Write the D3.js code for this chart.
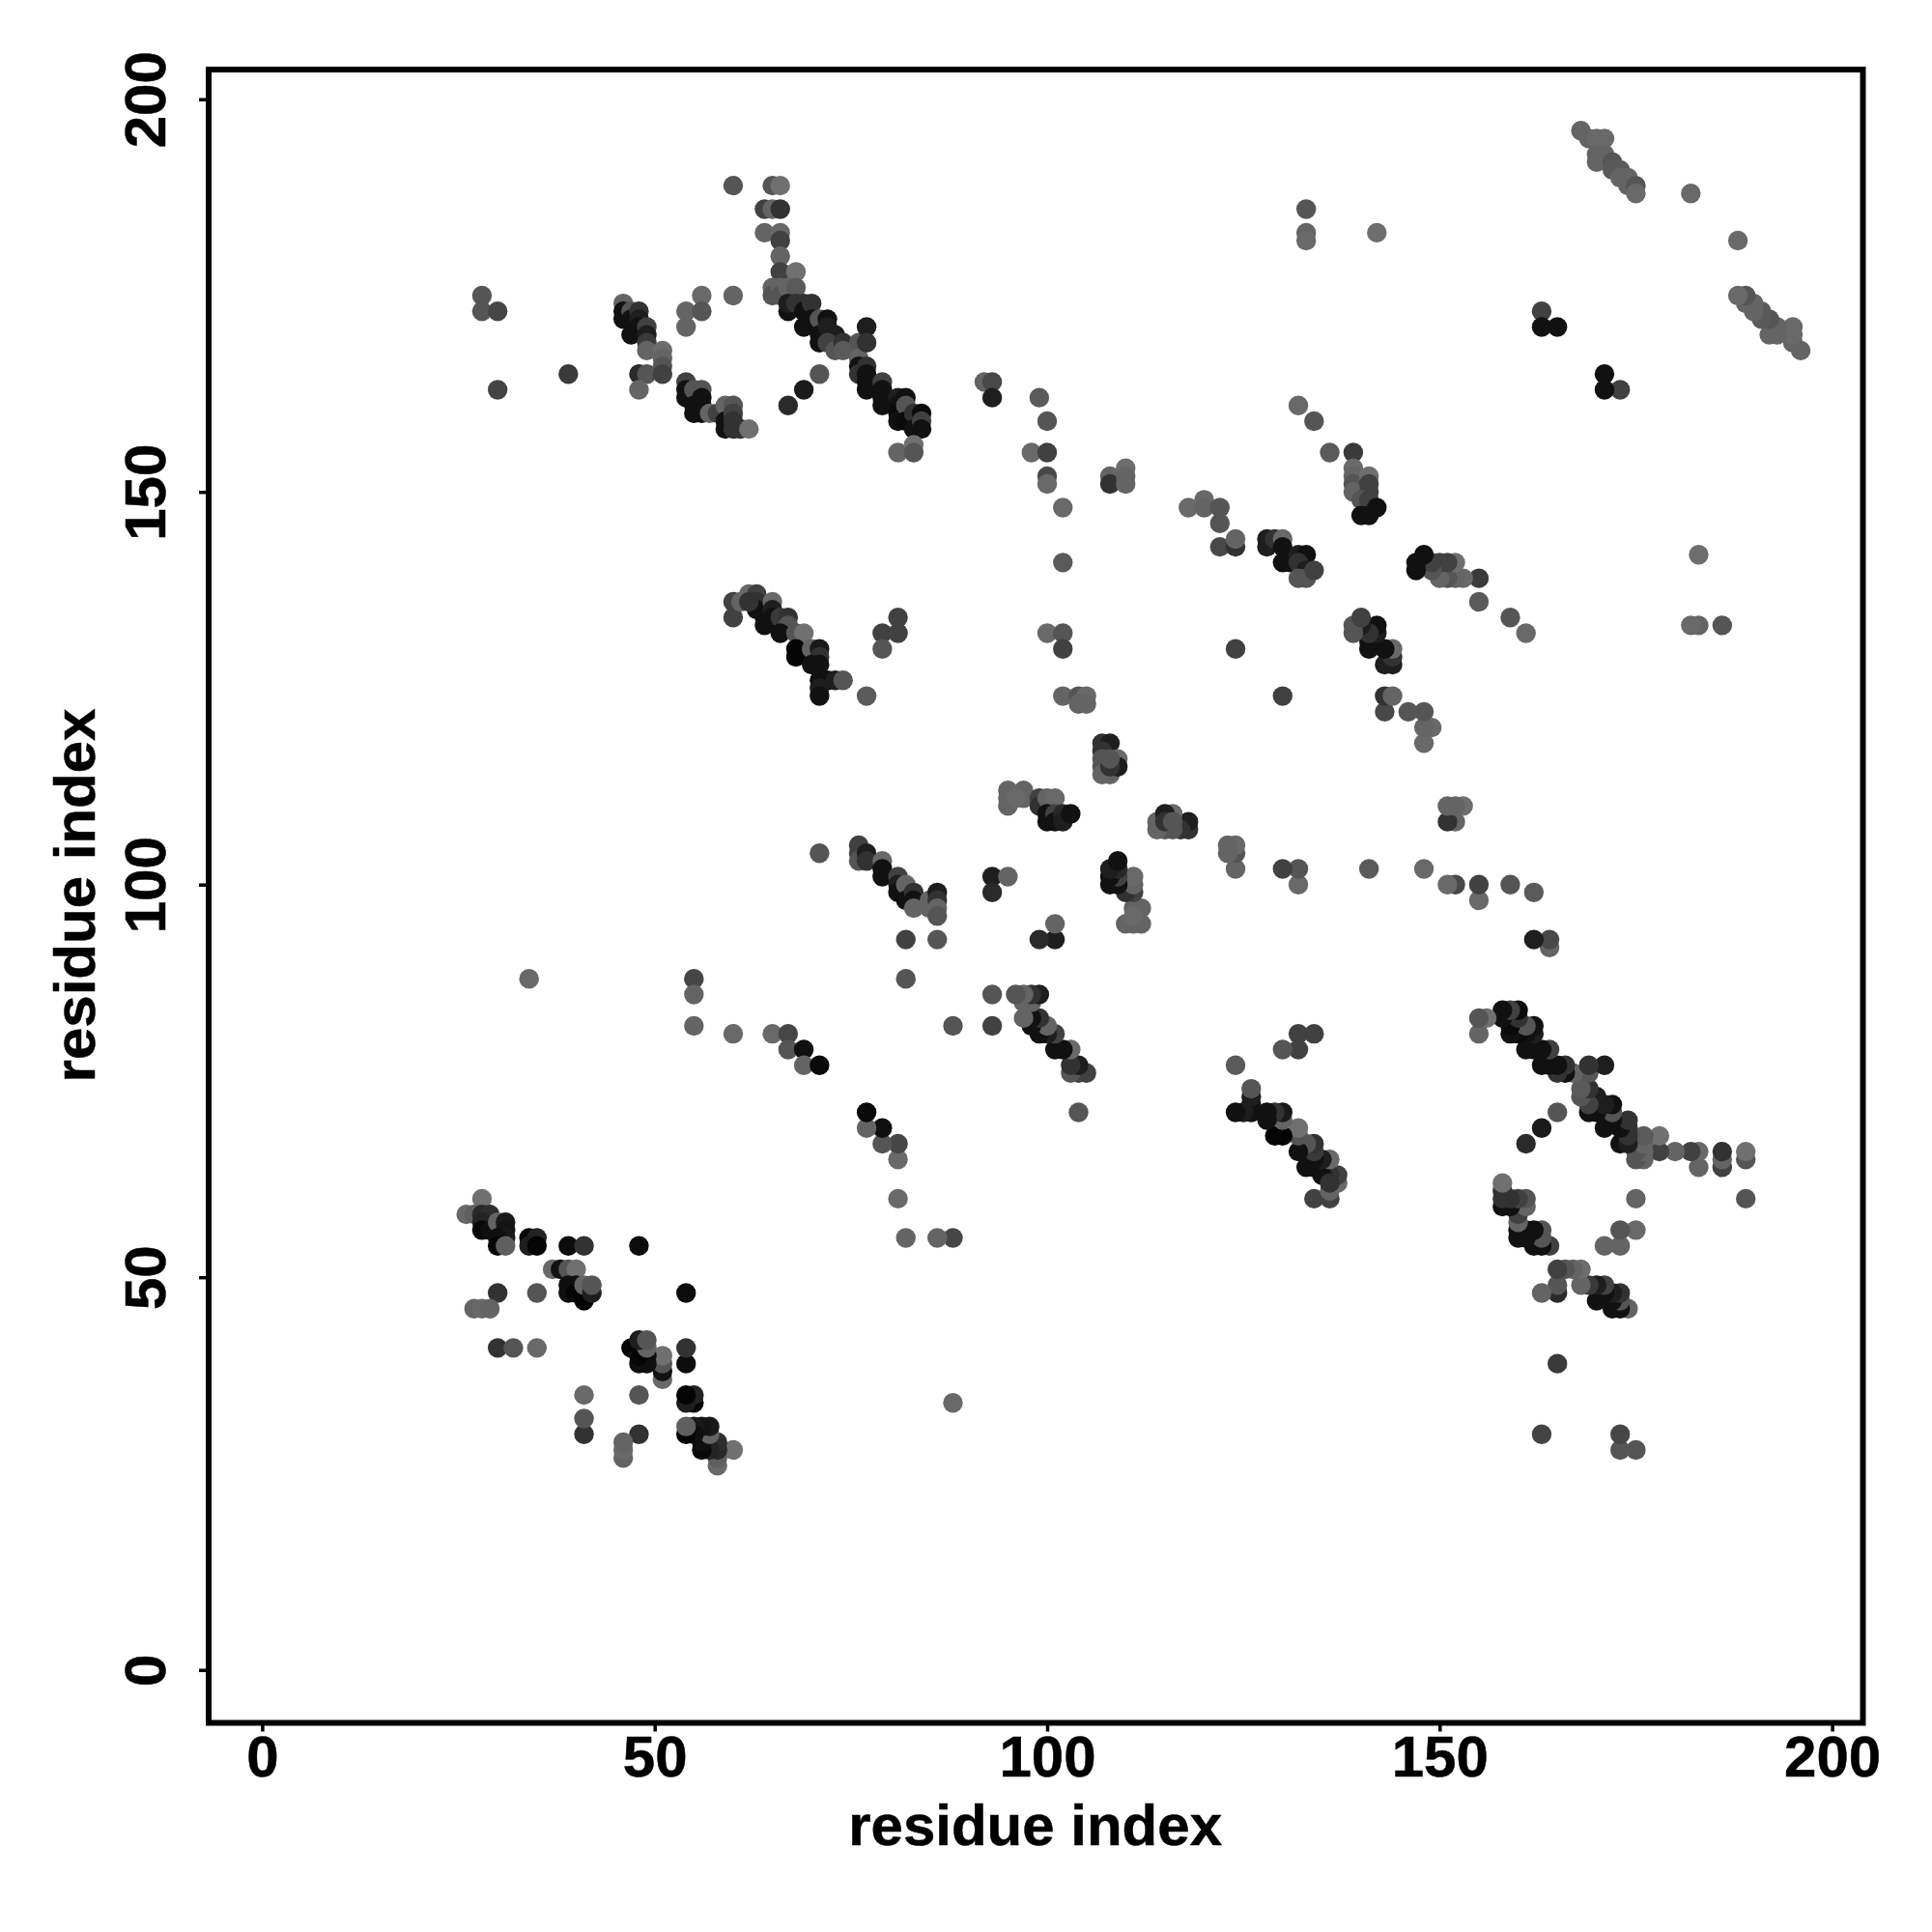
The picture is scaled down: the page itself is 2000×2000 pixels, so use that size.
<!DOCTYPE html>
<html><head><meta charset="utf-8">
<script src="https://cdnjs.cloudflare.com/ajax/libs/d3/7.8.5/d3.min.js"></script>
<style>html,body{margin:0;padding:0;background:#fff}svg{display:block}</style>
</head><body><div id="c"></div>
<script>
// contacts: [residue i, residue j, grey level]; the map is symmetric, each contact is drawn at (i,j) and (j,i)
const axisTicks=[0,50,100,150,200];
const axisLabel="residue index";
const contactsA=[[28,60,112],[26,58,105],[27,58,95],[28,58,40],[29,58,45],[28,57,35],[28,56,8],[29,56,15],[30,57,100],[31,57,25],[31,56,20],[31,55,25],[30,55,15],[30,54,5],[31,54,95],[34,55,5],[35,55,35],[34,54,30],[35,54,5],[39,54,12],[41,54,50],[48,54,12],[37,51,105],[38,51,18],[39,51,85],[40,51,112],[39,49,15],[40,49,15],[39,48,15],[40,48,5],[41,47,5],[41,48,5],[41,49,100],[42,48,30],[42,49,85],[30,48,50],[35,48,85],[27,46,100],[28,46,105],[29,46,100],[30,41,50],[32,41,85],[35,41,105]];
const contactsB=[[34,88,105],[55,88,70],[55,86,100],[55,82,100],[60,81,105],[65,81,105],[67,81,70],[67,79,85],[69,79,15],[69,77,100],[71,77,10]];
const contactsC=[[60,189,85],[65,189,85],[66,189,112],[64,186,65],[65,186,100],[66,186,50],[64,183,100],[66,183,105],[66,182,65],[66,180,100],[66,178,65],[68,178,112],[65,176,100],[65,175,85],[66,176,100],[66,175,85],[67,176,100],[68,176,90],[67,173,17],[67,174,30],[68,174,50],[69,174,50],[69,173,17],[70,174,50],[69,171,17],[70,172,17],[71,172,85],[72,172,17],[71,170,17],[71,169,17],[72,171,30],[73,170,30],[72,169,65],[73,168,85],[74,169,50],[74,168,90],[76,169,85],[76,167,100],[77,171,30],[77,169,50],[76,166,17],[77,166,50],[76,165,50],[77,165,17],[77,164,17],[77,163,17],[79,164,65],[79,163,17],[79,162,17],[79,161,17],[81,162,30],[82,162,17],[81,161,17],[81,160,10],[81,159,17],[82,161,85],[82,159,10],[83,160,50],[83,158,17],[84,160,12],[84,159,65],[84,158,17],[81,155,100],[83,156,112],[83,155,85],[67,161,42],[69,163,26],[71,165,85]];
const contactsD=[[28,175,85],[28,173,85],[30,173,70],[30,163,68],[39,165,58],[46,174,100],[46,173,17],[46,172,17],[47,173,85],[47,172,17],[47,170,17],[48,173,50],[48,172,30],[48,171,17],[49,171,65],[49,170,30],[49,169,58],[49,168,100],[48,165,42],[49,165,85],[48,163,100],[51,168,108],[51,167,100],[51,166,85],[51,165,65],[54,173,100],[54,171,100],[56,175,105],[56,173,85],[60,175,100],[54,164,65],[54,163,17],[54,162,17],[55,163,85],[55,161,17],[55,160,17],[56,163,85],[56,162,17],[56,161,17],[56,160,17],[57,160,100],[58,160,65],[59,161,100],[60,161,85],[59,159,17],[59,158,17],[60,160,65],[60,159,50],[60,158,50],[61,158,50],[62,158,112]];
const contactsE=[[168,196,100],[169,195,100],[170,195,105],[171,195,105],[170,193,100],[170,192,100],[171,193,100],[172,192,85],[172,191,90],[173,191,90],[173,190,100],[174,190,100],[174,189,100],[175,189,85],[175,188,105],[182,188,105],[133,186,85],[133,183,100],[133,182,105],[142,183,110],[163,173,65],[163,171,17],[165,171,17],[171,165,17],[171,163,17],[173,163,65]];
const contactsF=[[92,164,100],[93,164,72],[93,162,30],[99,162,90],[100,159,85],[98,155,105],[100,155,65],[100,152,72],[100,151,105],[102,148,105],[102,141,90],[108,152,100],[108,151,50],[110,153,110],[110,152,100],[110,151,100],[118,148,105],[120,149,105],[120,148,100],[122,148,85],[122,146,85],[122,143,72],[124,143,50],[124,144,100],[128,144,30],[128,143,30],[129,144,50],[130,144,105],[130,143,17],[130,141,17],[131,141,17],[132,142,30],[133,142,17],[132,141,50],[133,140,30],[132,139,85],[133,139,85],[134,140,65],[132,161,105],[134,159,85],[136,155,90],[139,155,58],[139,153,105],[139,152,100],[139,151,85],[139,150,100],[141,152,110],[141,151,65],[141,150,65],[140,149,85],[141,149,65],[142,148,17],[140,147,17],[141,147,17],[147,141,17],[148,142,17],[147,140,17],[149,141,65],[150,141,85],[151,141,85],[152,141,105],[149,140,65],[150,139,85],[151,139,85],[152,139,85],[153,139,100],[155,139,50],[183,142,105],[182,133,100],[183,133,100],[186,133,85]];
const contactsG=[[60,136,65],[60,134,65],[61,136,100],[62,137,105],[63,137,65],[63,136,50],[63,135,17],[64,134,17],[64,133,17],[65,136,105],[65,135,30],[65,134,17],[66,134,58],[67,134,50],[67,133,85],[66,132,17],[68,132,85],[69,132,112],[68,130,5],[68,129,5],[70,130,100],[71,130,26],[71,129,50],[70,128,17],[71,128,17],[71,126,17],[72,126,17],[73,126,30],[74,126,85],[71,125,30],[71,124,17],[77,124,90],[81,134,65],[79,132,65],[81,132,65],[79,130,85],[100,132,105],[102,132,85],[102,130,65],[102,124,100],[104,124,85],[105,124,105],[104,123,100],[105,123,100],[124,130,65],[130,124,65]];
const contactsH=[[107,118,50],[108,118,30],[107,117,50],[107,116,85],[107,115,85],[107,114,100],[108,114,100],[109,116,105],[109,115,30],[108,115,50],[108,116,85],[95,112,100],[95,111,100],[95,110,100],[97,112,100],[97,111,100],[96,111,105],[99,111,65],[99,110,50],[100,111,100],[101,111,105],[100,109,17],[100,108,17],[101,109,65],[101,108,17],[102,109,40],[102,108,30],[103,109,17]];
const contactsI=[[71,104,85],[76,105,65],[76,104,65],[76,103,85],[77,104,30],[77,103,50],[79,103,105],[79,102,17],[79,101,17],[81,101,65],[81,100,30],[81,99,17],[82,100,100],[82,98,17],[83,99,50],[83,98,17],[83,97,100],[85,98,100],[85,97,100],[86,99,30],[86,98,50],[86,97,100],[86,96,85],[82,93,65],[86,93,85],[93,101,30],[93,99,42],[95,101,100],[82,88,85],[93,86,85],[96,86,65],[97,86,105],[98,86,30],[99,86,26],[97,85,105],[98,85,65],[93,82,72],[97,83,100],[98,83,17],[98,82,10],[99,83,30],[99,81,17],[100,82,85],[101,81,65],[101,79,17],[103,79,100],[103,77,50],[104,77,30],[103,76,65],[104,76,30],[105,76,65],[104,71,85],[77,69,100],[79,69,10],[79,67,72],[81,67,72],[81,65,112],[81,60,105],[82,55,100],[86,55,85],[88,55,72]];
const contactsJ=[[123,105,100],[124,105,100],[123,104,100],[124,104,50],[124,102,90],[130,102,65],[132,102,85],[132,100,100],[141,102,85],[148,102,105],[151,100,100],[152,100,65],[155,100,65],[155,98,100],[159,100,85],[162,99,85],[162,93,30],[164,93,85],[164,92,100],[155,136,85],[159,134,85],[161,132,105],[143,124,30],[144,124,100],[143,122,65],[146,122,85],[148,122,85],[148,120,105],[149,120,105],[148,118,105],[151,110,100],[152,110,100],[153,110,105],[151,108,50],[152,108,100]];
const contactsK=[[139,132,85],[139,133,85],[140,134,65],[140,133,50],[141,132,30],[141,131,17],[141,130,17],[142,133,17],[142,132,17],[143,130,17],[144,130,100],[144,129,50],[143,128,17],[144,128,17],[124,71,17],[125,71,30],[126,71,17],[126,72,30],[126,73,50],[126,74,65],[128,71,17],[129,71,58],[130,71,26],[128,70,17],[129,68,10],[130,68,10],[130,70,65],[132,69,105],[132,68,85],[132,66,17],[133,67,85],[134,67,58],[133,64,17],[134,66,65],[135,65,100],[136,65,105],[135,63,17],[137,63,65],[137,62,100],[136,62,50],[136,61,100],[134,60,65],[136,60,65],[134,64,17],[124,77,90],[130,79,72],[132,79,58],[132,81,65],[134,81,65]];
const contacts=[contactsA,contactsB,contactsC,contactsD,contactsE,contactsF,contactsG,contactsH,contactsI,contactsJ,contactsK];

const W=2000,H=2000;
const x=d3.scaleLinear().domain([0,200]).range([271.4,1896.6]);
const y=d3.scaleLinear().domain([0,200]).range([1728.7,102.7]);
const frame={l:216,r:1928.5,t:72,b:1783.5};
const svg=d3.select("#c").append("svg").attr("width",W).attr("height",H);
svg.append("rect").attr("width",W).attr("height",H).attr("fill","#fff");
const font='"Liberation Sans",Arial,sans-serif';

const seen=new Set(),pts=[];
contacts.forEach(list=>list.forEach(([i,j,g])=>{
  const k=Math.min(i,j)+"_"+Math.max(i,j);
  if(seen.has(k))return; seen.add(k);
  pts.push({x:i,y:j,g},{x:j,y:i,g});
}));
svg.append("g").selectAll("circle").data(pts).join("circle")
  .attr("cx",d=>x(d.x)).attr("cy",d=>y(d.y)).attr("r",10.2)
  .attr("fill",d=>d3.rgb(d.g,d.g,d.g));

const xa=svg.append("g").attr("transform",`translate(0,${frame.b})`)
  .call(d3.axisBottom(x).tickValues(axisTicks).tickSize(9).tickPadding(0));
const ya=svg.append("g").attr("transform",`translate(${frame.l},0)`)
  .call(d3.axisLeft(y).tickValues(axisTicks).tickSize(10).tickPadding(0));
[xa,ya].forEach(a=>{a.select(".domain").remove();
  a.selectAll("line").attr("stroke","#000").attr("stroke-width",3.5);
  a.selectAll("text").attr("fill","#000").attr("stroke","#000").attr("stroke-width",0.5).attr("font-family",font).attr("font-weight","bold").attr("font-size",60);});
xa.selectAll("text").attr("y",0).attr("dy",0).attr("transform","translate(0,55.5)").attr("text-anchor","middle");
ya.selectAll("text").attr("x",0).attr("dy",0).attr("text-anchor","middle").attr("transform","translate(-45.5,0) rotate(-90)");

svg.append("rect").attr("x",frame.l).attr("y",frame.t).attr("width",frame.r-frame.l).attr("height",frame.b-frame.t)
  .attr("fill","none").attr("stroke","#000").attr("stroke-width",6);

svg.append("text").attr("x",1071.6).attr("y",1910).attr("text-anchor","middle").attr("font-family",font).attr("font-weight","bold").attr("stroke","#000").attr("stroke-width",0.5).attr("font-size",60).text(axisLabel);
svg.append("text").attr("transform","translate(98,927) rotate(-90)").attr("text-anchor","middle").attr("font-family",font).attr("font-weight","bold").attr("stroke","#000").attr("stroke-width",0.5).attr("font-size",60).text(axisLabel);
</script></body></html>
